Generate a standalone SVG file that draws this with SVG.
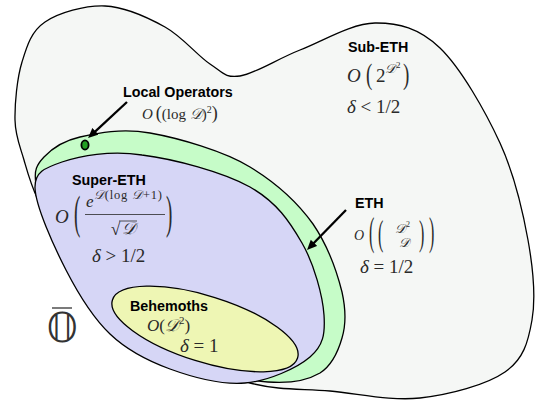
<svg xmlns="http://www.w3.org/2000/svg" width="537" height="403" viewBox="0 0 537 403">
<style>
.shape{stroke:#000;stroke-width:1.3;stroke-linejoin:round}
.lbl{font-family:"Liberation Sans",Arial,sans-serif;font-weight:bold;font-size:14.3px;fill:#000}
.m{font-family:"Liberation Serif","DejaVu Serif",serif;fill:#2a2a2a}
.i{font-style:italic}
.arrow{stroke:#000;stroke-width:2.3;fill:none}
</style>
<defs>
<marker id="ah" viewBox="0 0 10 10" refX="3" refY="5" markerWidth="10" markerHeight="10" markerUnits="userSpaceOnUse" orient="auto">
<path d="M0,0.5 L10,5 L0,9.5 Z" fill="#000"/>
</marker>
</defs>
<rect width="537" height="403" fill="#fff"/>
<g id="sub-eth">
<path class="shape" fill="#f5f7f5" d="M15,120 C14.7,103.7 17,78.3 22,62 C27,45.7 31.2,31.3 45,22 C58.8,12.7 85,5.2 105,6 C125,6.8 147.5,17.3 165,27 C182.5,36.7 197.5,55.8 210,64 C222.5,72.2 225,78.3 240,76 C255,73.7 277.5,58.8 300,50 C322.5,41.2 351.7,23.3 375,23 C398.3,22.7 419.2,28 440,48 C460.8,68 485.3,111 500,143 C514.7,175 522.7,210.5 528,240 C533.3,269.5 535.8,298 532,320 C528.2,342 523.7,359 505,372 C486.3,385 449.2,394.8 420,398 C390.8,401.2 358.3,393.5 330,391 C301.7,388.5 280,390.7 250,383 C220,375.3 180,365.5 150,345 C120,324.5 88.7,284.2 70,260 C51.3,235.8 45.7,216.7 38,200 C30.3,183.3 27.8,173.3 24,160 C20.2,146.7 15.3,136.3 15,120 Z"/>
<text class="lbl" x="348" y="52">Sub-ETH</text>
<text class="m i" x="347" y="82" font-size="19">O</text>
<text class="m" font-size="19" transform="translate(366,84) scale(1,1.6)">(</text>
<text class="m" x="376" y="82" font-size="19">2</text>
<text class="m i" x="385" y="73" font-size="13">𝒟</text>
<text class="m" x="396" y="68" font-size="9">2</text>
<text class="m" font-size="19" transform="translate(403,84) scale(1,1.6)">)</text>
<text class="m" x="347" y="113" font-size="19"><tspan class="i">δ</tspan> &lt; 1/2</text>
</g>
<g id="eth">
<path class="shape" fill="#c6fcc8" d="M36,184 C33.7,170.2 36.7,164.8 44,157 C51.3,149.2 62.3,141 80,137 C97.7,133 121.7,128 150,133 C178.3,138 224,151 250,167 C278,184 298,203 313,224 C328,246 337,272 342,292 C346,310 346,325 342,338 C338,352 331,366 320,373 C308,380 293,384 268,382 C247,380 208.3,373.7 180,360 C151.7,346.3 120.3,320 100,300 C79.7,280 68.7,259.3 58,240 C47.3,220.7 38.3,197.8 36,184 Z"/>
<text class="lbl" x="355" y="208">ETH</text>
<text class="m i" x="354" y="240" font-size="14">O</text>
<text class="m" font-size="16" transform="translate(369,245) scale(1,2.5)">(</text>
<text class="m" font-size="16" transform="translate(378,245) scale(1,2.3)">(</text>
<text class="m i" x="395" y="233" font-size="13">𝒟</text>
<text class="m" x="406" y="227" font-size="8">2</text>
<text class="m i" x="399" y="247" font-size="13">𝒟</text>
<text class="m" font-size="16" transform="translate(419,245) scale(1,2.3)">)</text>
<text class="m" font-size="16" transform="translate(429,245) scale(1,2.5)">)</text>
<text class="m" x="360" y="273" font-size="19"><tspan class="i">δ</tspan> = 1/2</text>
</g>
<g id="super-eth">
<path class="shape" fill="#d6d6f6" d="M35,188 C34.5,172 44.5,168 62,162 C80,156 110,150 142,155 C174,159 223,172 250,187 C277,202.3 289.7,221.7 302,243 C314.3,264.3 322.7,296 324,315 C325.3,334 323.2,345.7 310,357 C296.8,368.3 268.3,381 245,383 C221.7,385 192.5,377.2 170,369 C147.5,360.8 127.3,350.5 110,334 C92.7,317.5 78.5,294.3 66,270 C53.5,245.7 35.7,206.3 35,188 Z"/>
<text class="lbl" x="72" y="185">Super-ETH</text>
<text class="m i" x="55" y="223" font-size="19">O</text>
<text class="m" font-size="19" transform="translate(74,228) scale(1,2.45)">(</text>
<text class="m i" x="86" y="207" font-size="17">e</text>
<text class="m" x="94" y="199" font-size="12.5" textLength="68" lengthAdjust="spacing"><tspan class="i">𝒟</tspan>(log <tspan class="i">𝒟</tspan>+1)</text>
<line x1="85" y1="214.5" x2="165" y2="214.5" stroke="#2a2a2a" stroke-width="0.8"/>
<text class="m" x="111" y="235" font-size="17">√</text>
<line x1="119" y1="221" x2="137" y2="221" stroke="#2a2a2a" stroke-width="0.8"/>
<text class="m i" x="122" y="234" font-size="17">𝒟</text>
<text class="m" font-size="19" transform="translate(166,228) scale(1,2.45)">)</text>
<text class="m" x="92" y="262" font-size="19"><tspan class="i">δ</tspan> &gt; 1/2</text>
</g>
<g id="behemoths">
<ellipse class="shape" fill="#eef6b4" cx="205" cy="329" rx="97" ry="33" transform="rotate(17.4 205 329)"/>
<text class="lbl" x="130" y="311">Behemoths</text>
<text class="m" x="147" y="331" font-size="17"><tspan class="i">O</tspan>(<tspan class="i">𝒟</tspan><tspan font-size="11" dy="-7">2</tspan><tspan dy="7">)</tspan></text>
<text class="m" x="180" y="352" font-size="19"><tspan class="i">δ</tspan> = 1</text>
</g>
<g id="local-operators">
<ellipse cx="85" cy="145" rx="3.6" ry="4.6" fill="#22a022" stroke="#000" stroke-width="1.8"/>
<text class="lbl" x="123" y="97">Local Operators</text>
<text class="m" x="142" y="119" font-size="15"><tspan class="i">O</tspan><tspan dx="3" font-size="18">(</tspan>(log <tspan class="i">𝒟</tspan>)<tspan font-size="10" dy="-6">2</tspan><tspan dy="6" font-size="18">)</tspan></text>
</g>
<g id="obar">
<text x="46.5" y="342" font-family="DejaVu Sans" font-size="40" fill="#333">𝕆</text>
<line x1="52" y1="308" x2="72" y2="308" stroke="#333" stroke-width="1.3"/>
</g>
<g id="connectors">
<line class="arrow" x1="127" y1="102" x2="93.2" y2="133.3" marker-end="url(#ah)"/>
<line class="arrow" x1="346" y1="210" x2="311.9" y2="245" marker-end="url(#ah)"/>
</g>
</svg>
